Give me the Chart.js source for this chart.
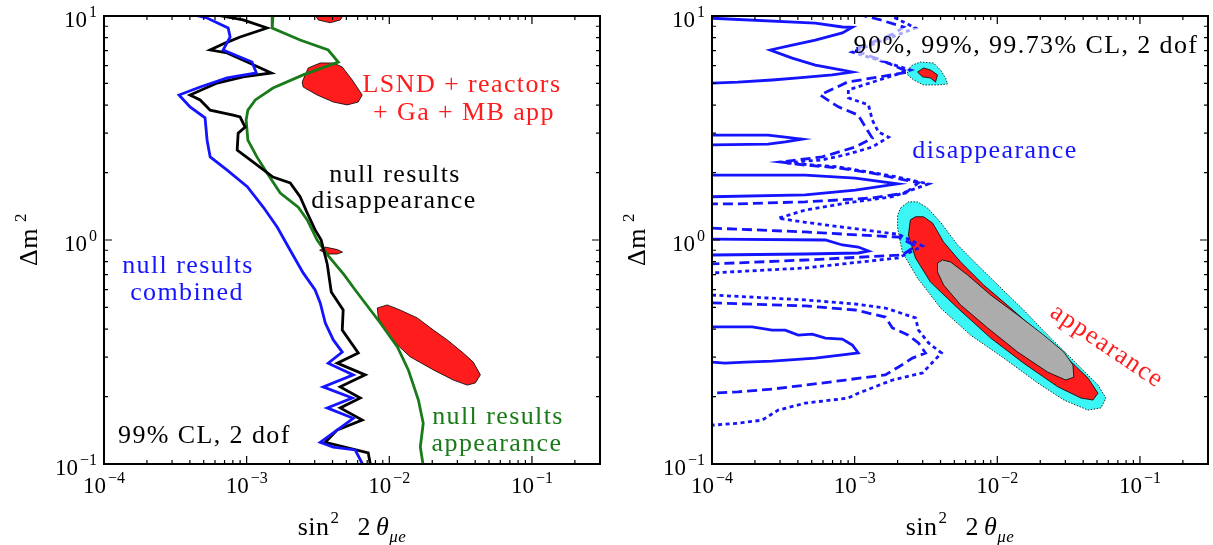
<!DOCTYPE html>
<html>
<head>
<meta charset="utf-8">
<script src="https://cdn.jsdelivr.net/npm/chart.js@4/dist/chart.umd.min.js"></script>
<style>
  html, body { margin: 0; padding: 0; background: #fff; }
  #wrap { position: relative; width: 1213px; height: 545px; }
  canvas { position: absolute; top: 0; }
  #left { left: 0; }
  #right { left: 608px; }
</style>
</head>
<body>
<div id="wrap">
  <canvas id="left" width="606" height="545"></canvas>
  <canvas id="right" width="606" height="545"></canvas>
</div>
<script>
"use strict";

/* axes */
const xMin = 1e-4, xMax = 0.3, yMin = 0.1, yMax = 10;
const xTickValues = [1e-4, 1e-3, 1e-2, 1e-1];
const xTickExps = ['\u22124', '\u22123', '\u22122', '\u22121'];
const yTickValues = [0.1, 1, 10];
const yTickExps = ['\u22121', '0', '1'];

/* left panel: 99% CL curves  [sin^2 2theta, dm^2] */
const nullCombined = [[4.35e-4,10.1],[5.28e-4,9.8],[7.42e-4,8.84],[7.66e-4,8.06],[6.84e-4,7.05],[1.09e-3,6.23],[1.17e-3,5.57],[7.3e-4,5.29],[4.72e-4,4.82],[3.36e-4,4.44],[4.01e-4,3.93],[5.11e-4,3.51],[5.28e-4,2.79],[5.55e-4,2.35],[7.3e-4,2.05],[1.01e-3,1.73],[1.31e-3,1.40],[1.64e-3,1.14],[2.02e-3,0.90],[2.49e-3,0.713],[3.02e-3,0.598],[3.28e-3,0.524],[3.56e-3,0.426],[4.05e-3,0.358],[4.68e-3,0.316],[3.73e-3,0.282],[5.59e-3,0.250],[3.44e-3,0.221],[5.50e-3,0.197],[3.67e-3,0.178],[5.59e-3,0.160],[3.28e-3,0.125],[4.05e-3,0.119],[5.77e-3,0.1155],[6.6e-3,0.098]];
const nullDisapp = [[6.21e-4,10.1],[9.45e-4,9.6],[1.39e-3,8.84],[9.0e-4,8.06],[7.06e-4,7.57],[5.55e-4,7.05],[7.3e-4,6.84],[1.01e-3,6.23],[1.49e-3,5.57],[9.45e-4,5.35],[6.21e-4,5.02],[4.01e-4,4.44],[4.72e-4,4.22],[5.55e-4,3.80],[8.04e-4,3.61],[9.0e-4,3.54],[9.76e-4,3.19],[8.72e-4,3.00],[8.58e-4,2.52],[1.06e-3,2.28],[1.53e-3,1.91],[2.02e-3,1.80],[2.37e-3,1.56],[2.66e-3,1.32],[3.02e-3,1.11],[3.33e-3,1.0],[3.67e-3,0.782],[3.92e-3,0.586],[4.75e-3,0.487],[4.68e-3,0.396],[6.06e-3,0.313],[4.32e-3,0.282],[6.78e-3,0.250],[4.53e-3,0.221],[6.26e-3,0.197],[4.53e-3,0.178],[6.46e-3,0.157],[4.32e-3,0.142],[3.56e-3,0.125],[7.12e-3,0.112],[7.4e-3,0.098]];
const nullApp = [[1.53e-3,10.1],[1.51e-3,8.84],[2.37e-3,7.81],[3.73e-3,7.05],[4.39e-3,6.23],[2.49e-3,5.46],[1.53e-3,4.77],[1.15e-3,4.22],[1.02e-3,3.80],[9.92e-4,3.43],[1.02e-3,2.79],[1.18e-3,2.35],[1.39e-3,1.99],[1.72e-3,1.62],[2.30e-3,1.40],[2.66e-3,1.23],[3.12e-3,1.0],[3.79e-3,0.84],[4.83e-3,0.698],[5.77e-3,0.598],[8.65e-3,0.426],[1.14e-2,0.333],[1.36e-2,0.263],[1.60e-2,0.193],[1.73e-2,0.152],[1.65e-2,0.119],[1.73e-2,0.098]];

/* left panel: LSND + reactors + Ga + MB app islands */
const lsndTop = [[2.93e-3,10.4],[3.18e-3,9.6],[3.85e-3,9.33],[4.53e-3,9.6],[4.91e-3,10.4]];
const lsndUpper = [[2.45e-3,5.07],[2.70e-3,5.86],[3.28e-3,6.17],[4.05e-3,6.17],[4.68e-3,5.92],[5.50e-3,5.18],[6.46e-3,4.44],[6.06e-3,4.13],[5.07e-3,4.01],[4.05e-3,4.13],[3.12e-3,4.44],[2.49e-3,4.82]];
const lsndSmall = [[3.25e-3,0.90],[3.56e-3,0.93],[4.32e-3,0.906],[4.70e-3,0.883],[4.32e-3,0.866],[3.67e-3,0.866]];
const lsndLower = [[8.24e-3,0.497],[9.68e-3,0.513],[1.19e-2,0.487],[1.57e-2,0.449],[2.04e-2,0.396],[2.55e-2,0.358],[3.30e-2,0.313],[3.88e-2,0.285],[4.35e-2,0.250],[4.01e-2,0.230],[3.52e-2,0.225],[2.81e-2,0.237],[2.04e-2,0.263],[1.40e-2,0.301],[1.14e-2,0.340],[9.37e-3,0.396],[8.37e-3,0.449]];

/* right panel: disappearance contours (90% solid, 99% dashed, 99.73% dotted) */
const dis90a = [[1e-4,9.77],[5.30e-4,9.3],[8.20e-4,8.93],[9.63e-4,8.91],[8.20e-4,8.40],[5.30e-4,7.81],[3.65e-4,7.42],[2.56e-4,7.05],[3.65e-4,6.49],[5.30e-4,6.04],[8.20e-4,5.74],[9.63e-4,5.62],[6.97e-4,5.46],[4.02e-4,5.29],[2.64e-4,5.18],[1.52e-4,5.07],[1e-4,5.02]];
const dis90b = [[1e-4,2.94],[2.47e-4,2.94],[3.26e-4,2.88],[4.29e-4,2.82],[3.26e-4,2.74],[2.47e-4,2.68],[1e-4,2.66]];
const dis90c = [[1e-4,1.95],[4.50e-4,1.95],[1.01e-3,1.89],[2.00e-3,1.78],[1.01e-3,1.67],[4.50e-4,1.59],[1e-4,1.56]];
const dis90d = [[1e-4,1.01],[6.23e-4,1.0],[8.20e-4,0.95],[1.06e-3,0.93],[1.25e-3,0.893],[1.06e-3,0.875],[4.50e-4,0.866],[1e-4,0.857]];
const dis90e = [[1e-4,0.409],[1.91e-4,0.409],[2.64e-4,0.396],[3.26e-4,0.396],[4.02e-4,0.376],[5.04e-4,0.38],[6.23e-4,0.365],[8.20e-4,0.361],[9.63e-4,0.340],[1.06e-3,0.313],[8.20e-4,0.307],[5.30e-4,0.297],[2.64e-4,0.288],[1.71e-4,0.285],[1.23e-4,0.282],[1e-4,0.285]];
const dis99a = [[1.045e-3,10.2],[1.52e-3,9.6],[2.20e-3,8.93],[1.93e-3,8.40],[9.8e-4,7.05],[1.52e-3,6.37],[2.38e-3,5.62],[8.9e-4,5.07],[5.74e-4,4.44],[7.68e-4,3.93],[1.06e-3,3.61],[1.19e-3,3.19],[1.33e-3,2.85],[1.01e-3,2.60],[5.93e-4,2.35],[3.01e-4,2.23],[4.50e-4,2.16],[7.68e-4,2.10],[1.33e-3,1.99],[2.27e-3,1.85],[2.80e-3,1.80],[2.27e-3,1.62],[1.33e-3,1.54],[4.50e-4,1.48],[1.52e-4,1.45],[1e-4,1.45]];
const dis99b = [[1e-4,1.13],[4.50e-4,1.086],[2.03e-3,1.03],[2.67e-3,0.94],[2.16e-3,0.857],[4.50e-4,0.814],[1e-4,0.782]];
const dis99c = [[1e-4,0.524],[4.50e-4,0.508],[1.01e-3,0.487],[1.64e-3,0.453],[1.84e-3,0.405],[2.38e-3,0.376],[2.80e-3,0.347],[3.14e-3,0.313],[2.54e-3,0.297],[2.03e-3,0.271],[1.64e-3,0.25],[8.60e-4,0.237],[4.50e-4,0.225],[2.64e-4,0.216],[1.52e-4,0.210],[1e-4,0.207]];
const dis997a = [[1.70e-3,10.2],[2.67e-3,8.84],[9.63e-4,6.9],[2.46e-3,5.74],[9.03e-4,4.68],[9.03e-4,4.31],[1.25e-3,4.01],[1.33e-3,3.43],[1.47e-3,3.03],[1.73e-3,2.88],[1.33e-3,2.60],[8.60e-4,2.40],[5.93e-4,2.28],[3.26e-4,2.21],[7.68e-4,2.12],[1.84e-3,1.93],[3.30e-3,1.78],[1.84e-3,1.56],[8.60e-4,1.46],[4.50e-4,1.36],[2.91e-4,1.25],[4.50e-4,1.20],[9.33e-4,1.13],[2.03e-3,1.06],[2.99e-3,0.94],[2.03e-3,0.832],[4.50e-4,0.75],[1e-4,0.713]];
const dis997b = [[1e-4,0.568],[4.50e-4,0.54],[1.01e-3,0.518],[1.64e-3,0.497],[2.67e-3,0.449],[2.80e-3,0.396],[3.30e-3,0.347],[4.06e-3,0.313],[2.99e-3,0.255],[1.84e-3,0.237],[1.06e-3,0.207],[9.03e-4,0.197],[4.50e-4,0.187],[2.91e-4,0.174],[2.25e-4,0.157],[1.52e-4,0.152],[1e-4,0.149]];

/* right panel: appearance regions */
const app997Main = [[2.10e-3,1.39],[2.38e-3,1.48],[2.76e-3,1.48],[3.24e-3,1.39],[4.00e-3,1.20],[5.27e-3,0.95],[7.28e-3,0.773],[1.06e-2,0.611],[1.53e-2,0.487],[2.26e-2,0.376],[3.67e-2,0.277],[5.08e-2,0.225],[5.78e-2,0.197],[5.33e-2,0.178],[4.32e-2,0.174],[2.93e-2,0.193],[1.92e-2,0.230],[1.11e-2,0.297],[6.50e-3,0.376],[4.00e-3,0.497],[2.76e-3,0.676],[2.16e-3,0.883],[2.00e-3,1.13],[2.00e-3,1.29]];
const app99Main = [[2.46e-3,1.23],[2.67e-3,1.27],[3.04e-3,1.27],[3.52e-3,1.19],[4.20e-3,0.98],[5.53e-3,0.798],[8.02e-3,0.63],[1.24e-2,0.497],[1.92e-2,0.388],[2.93e-2,0.307],[4.32e-2,0.242],[5.08e-2,0.207],[4.68e-2,0.193],[3.86e-2,0.197],[2.66e-2,0.221],[1.53e-2,0.282],[8.99e-3,0.365],[5.27e-3,0.497],[3.40e-3,0.649],[2.67e-3,0.832],[2.38e-3,1.05]];
const app90Main = [[3.81e-3,0.789],[4.13e-3,0.814],[4.70e-3,0.798],[6.19e-3,0.698],[8.99e-3,0.568],[1.39e-2,0.463],[2.12e-2,0.376],[2.93e-2,0.316],[3.39e-2,0.277],[3.44e-2,0.244],[3.02e-2,0.237],[2.26e-2,0.257],[1.39e-2,0.316],[8.56e-3,0.405],[5.53e-3,0.513],[4.20e-3,0.63],[3.81e-3,0.72]];
const app997High = [[2.35e-3,5.74],[2.54e-3,6.04],[2.89e-3,6.23],[3.57e-3,6.17],[4.00e-3,5.74],[4.34e-3,5.29],[4.48e-3,4.97],[3.81e-3,4.92],[3.04e-3,4.92],[2.59e-3,5.18],[2.35e-3,5.46]];
const app99High = [[2.76e-3,5.62],[3.04e-3,5.86],[3.40e-3,5.74],[3.81e-3,5.46],[3.69e-3,5.07],[3.40e-3,5.29],[2.99e-3,5.35]];

const SERIF = '"Liberation Serif", "Times New Roman", "DejaVu Serif", serif';
const BLUE = '#1414ff', RED = 'rgb(255,28,28)', GREEN = 'rgb(24,122,24)';
const CYAN = 'rgb(60,245,245)', GREY = 'rgb(172,172,172)';

const pts = a => a.map(([x, y]) => ({x, y}));

function curve(data, color, dash) {
    return {
        data: pts(data), borderColor: color, borderWidth: 2.8, borderDash: dash || [],
        pointRadius: 0, tension: 0, fill: false, clip: 0, order: 0
    };
}

function region(data, color, order, edgeDash) {
    return {
        data: pts(data.concat([data[0]])), borderColor: '#000', borderWidth: 0.8,
        borderDash: edgeDash || [], backgroundColor: color, fill: 'shape',
        pointRadius: 0, tension: 0, clip: 0, order: order
    };
}

function sciLabel(ctx, exp, x, y, align) {
    ctx.font = '23px ' + SERIF;
    const w1 = ctx.measureText('10').width;
    ctx.font = '16px ' + SERIF;
    const w2 = ctx.measureText(exp).width;
    const total = w1 + 2 + w2;
    const x0 = align === 'right' ? x - total : x - total / 2;
    ctx.textAlign = 'left';
    ctx.font = '23px ' + SERIF;
    ctx.fillText('10', x0, y);
    ctx.font = '16px ' + SERIF;
    ctx.fillText(exp, x0 + w1 + 2, y - 10);
}

function drawText(ctx, t) {
    ctx.save();
    ctx.font = (t.size || 26) + 'px ' + SERIF;
    ctx.fillStyle = t.color || '#000';
    ctx.letterSpacing = (t.spacing === undefined ? 1.4 : t.spacing) + 'px';
    ctx.textAlign = t.align || 'center';
    ctx.textBaseline = 'alphabetic';
    ctx.translate(t.x, t.y);
    if (t.rotate) ctx.rotate(t.rotate * Math.PI / 180);
    ctx.fillText(t.text, 0, 0);
    ctx.restore();
}

function drawTitles(ctx, a) {
    // x title: sin^2 2theta_mue
    const parts = [
        {t: 'sin', f: '26px', dy: 0, gap: 1},
        {t: '2', f: '17px', dy: -12, gap: 18},
        {t: '2', f: '26px', dy: 0, gap: 5},
        {t: '\u03b8', f: 'italic 26px', dy: 0, gap: 0},
        {t: '\u03bce', f: 'italic 17px', dy: 7, gap: 0}
    ];
    ctx.save();
    ctx.fillStyle = '#000';
    ctx.textAlign = 'left';
    ctx.letterSpacing = '0.5px';
    let total = 0;
    parts.forEach(p => { ctx.font = p.f + ' ' + SERIF; p.w = ctx.measureText(p.t).width; total += p.w + p.gap; });
    let x = (a.left + a.right) / 2 - total / 2;
    parts.forEach(p => { ctx.font = p.f + ' ' + SERIF; ctx.fillText(p.t, x, 535 + p.dy); x += p.w + p.gap; });
    // y title: Delta m^2
    ctx.translate(37, (a.top + a.bottom) / 2 + 26);
    ctx.rotate(-Math.PI / 2);
    ctx.font = '26px ' + SERIF;
    const wd = ctx.measureText('\u0394m').width;
    ctx.fillText('\u0394m', 0, 0);
    ctx.font = '17px ' + SERIF;
    ctx.fillText('2', wd + 6, -11);
    ctx.restore();
}

function drawFrame(chart) {
    const ctx = chart.ctx, a = chart.chartArea, xs = chart.scales.x, ys = chart.scales.y;
    ctx.save();
    ctx.strokeStyle = '#000';
    ctx.lineWidth = 1.2;
    ctx.beginPath();
    for (let e = -4; e < 0; e++) {
        for (let k = 1; k < 10; k++) {
            const v = k * Math.pow(10, e);
            if (v > xMax) break;
            const p = xs.getPixelForValue(v), len = k === 1 ? 8 : 4;
            ctx.moveTo(p, a.bottom); ctx.lineTo(p, a.bottom - len);
            ctx.moveTo(p, a.top); ctx.lineTo(p, a.top + len);
        }
    }
    for (let e = -1; e < 1; e++) {
        for (let k = 1; k < 10; k++) {
            const v = k * Math.pow(10, e);
            const p = ys.getPixelForValue(v), len = k === 1 ? 8 : 4;
            ctx.moveTo(a.left, p); ctx.lineTo(a.left + len, p);
            ctx.moveTo(a.right, p); ctx.lineTo(a.right - len, p);
        }
    }
    ctx.stroke();
    ctx.lineWidth = 2;
    ctx.strokeRect(a.left, a.top, a.right - a.left, a.bottom - a.top);
    ctx.fillStyle = '#000';
    ctx.textBaseline = 'alphabetic';
    xTickValues.forEach((v, i) => sciLabel(ctx, xTickExps[i], xs.getPixelForValue(v), 493, 'center'));
    yTickValues.forEach((v, i) => sciLabel(ctx, yTickExps[i], a.left - 7, ys.getPixelForValue(v) + 11, 'right'));
    ctx.restore();
    drawTitles(ctx, a);
}

function decor(labels, veil) {
    return {
        id: 'decor',
        afterDatasetsDraw(chart) {
            const ctx = chart.ctx;
            if (veil) {
                ctx.save();
                ctx.fillStyle = 'rgba(255,255,255,0.62)';
                ctx.fillRect(veil[0], veil[1], veil[2], veil[3]);
                ctx.restore();
            }
            labels.forEach(t => drawText(ctx, t));
            drawFrame(chart);
        }
    };
}

function makeChart(id, datasets, labels, veil) {
    return new Chart(document.getElementById(id), {
        type: 'line',
        data: {datasets: datasets},
        options: {
            responsive: false,
            animation: false,
            events: [],
            layout: {padding: {left: 0, top: 16, right: 6, bottom: 0}},
            plugins: {legend: {display: false}, tooltip: {enabled: false}},
            scales: {
                x: {
                    type: 'logarithmic', min: xMin, max: xMax,
                    grid: {display: false}, border: {display: false},
                    ticks: {display: false},
                    afterFit: s => { s.height = 81; }
                },
                y: {
                    type: 'logarithmic', min: yMin, max: yMax,
                    grid: {display: false}, border: {display: false},
                    ticks: {display: false},
                    afterFit: s => { s.width = 104; }
                }
            }
        },
        plugins: [decor(labels, veil)]
    });
}

makeChart('left', [
    curve(nullCombined, BLUE),
    curve(nullDisapp, '#000'),
    curve(nullApp, GREEN),
    region(lsndTop, RED, 1),
    region(lsndUpper, RED, 1),
    region(lsndSmall, RED, 1),
    region(lsndLower, RED, 1)
], [
    {text: 'LSND + reactors', x: 462, y: 92, color: RED},
    {text: '+ Ga + MB app', x: 464, y: 120, color: RED},
    {text: 'null results', x: 395, y: 182, color: '#000'},
    {text: 'disappearance', x: 394, y: 208, color: '#000'},
    {text: 'null results', x: 188, y: 273, color: BLUE},
    {text: 'combined', x: 187, y: 300, color: BLUE},
    {text: 'null results', x: 498, y: 424, color: GREEN},
    {text: 'appearance', x: 497, y: 451, color: GREEN},
    {text: '99% CL, 2 dof', x: 118, y: 443, color: '#000', align: 'left'}
]);

makeChart('right', [
    curve(dis90a, BLUE), curve(dis90b, BLUE), curve(dis90c, BLUE),
    curve(dis90d, BLUE), curve(dis90e, BLUE),
    curve(dis99a, BLUE, [10, 5]), curve(dis99b, BLUE, [10, 5]), curve(dis99c, BLUE, [10, 5]),
    curve(dis997a, BLUE, [4, 3.5]), curve(dis997b, BLUE, [4, 3.5]),
    region(app90Main, GREY, 1),
    region(app99Main, RED, 2),
    region(app99High, RED, 2),
    region(app997Main, CYAN, 3, [1.5, 1.5]),
    region(app997High, CYAN, 3, [1.5, 1.5])
], [
    {text: '90%, 99%, 99.73% CL, 2 dof', x: 418, y: 53, color: '#000'},
    {text: 'disappearance', x: 387, y: 158, color: BLUE},
    {text: 'appearance', x: 495, y: 352, color: RED, rotate: 34}
], [250, 28, 340, 33]);
</script>
</body>
</html>
